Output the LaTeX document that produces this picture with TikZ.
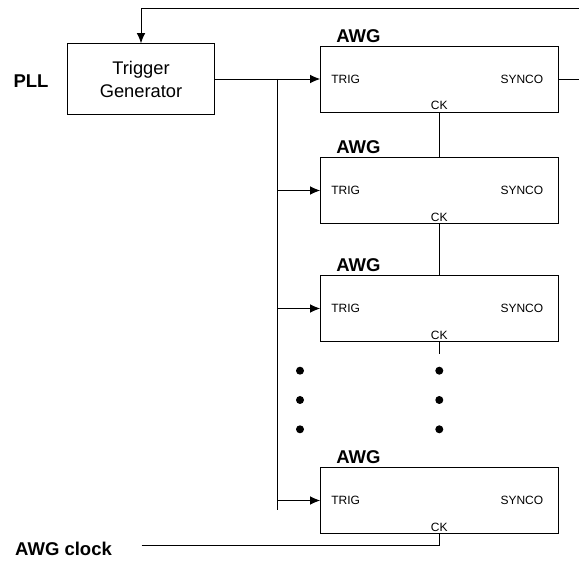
\documentclass[tikz,border=0pt]{standalone}
\usepackage{fontspec}
\setmainfont{Liberation Sans}
\usetikzlibrary{arrows.meta,calc}

\tikzset{
  block/.style={draw, line width=0.9pt, minimum width=237.3pt, minimum height=66pt, inner sep=0pt},
  port/.style={font=\fontsize{12}{13}\selectfont, inner sep=0pt},
  title/.style={font=\fontsize{18.5}{20}\selectfont\bfseries, inner sep=0pt},
  wire/.style={line width=0.9pt}
}

\begin{document}
\begin{tikzpicture}[x=1pt, y=-1pt, >={Latex[length=10pt,width=8.5pt]}]
\useasboundingbox (0,0) rectangle (579,561);

\node [draw, line width=0.9pt, minimum width=146.3pt, minimum height=70.6pt, inner sep=0pt,
       align=center, font=\fontsize{18.3}{23}\selectfont] at (141, 79) (tg) {Trigger\\Generator};
\node [title] at (31, 81) (pll) {PLL};

% AWG blocks
\foreach \i/\y in {1/79, 2/190.5, 3/308.5, 4/500.5} {
  \node [block] at (439.3, \y) (awg\i) {};
  \node [title, anchor=base west] at ($(awg\i.north west)+(16,-3.5)$) (awglab\i) {AWG};
  \node [port, anchor=west] at ($(awg\i.west)+(11,0)$) (trig\i) {TRIG};
  \node [port, anchor=east] at ($(awg\i.east)+(-15,0)$) (sync\i) {SYNCO};
  \node [port, anchor=base] at ($(awg\i.south)+(0,-2.5)$) (ck\i) {CK};
}

% trigger distribution
\coordinate (br) at (277.3, 79);
\coordinate (brend) at (277.3, 510);
\draw [wire, ->] (tg.east) -- (awg1.west);
\draw [wire] (br) -- (brend);
\foreach \i in {2,3,4}
  \draw [wire, ->] (br |- awg\i.west) -- (awg\i.west);

% clock chain
\draw [wire] (awg1.south) -- (awg2.north);
\draw [wire] (awg2.south) -- (awg3.north);
\coordinate (stub) at ($(awg3.south)+(0,12)$);
\draw [wire] (awg3.south) -- (stub);

\node [title, anchor=base west] at (15, 555) (clklab) {AWG clock};
\coordinate (clk) at (141.7, 545.5);
\draw [wire] (clk) -| (awg4.south);

% feedback from SYNCO
\coordinate (edge) at (582, 79);
\coordinate (top) at (582, 8);
\draw [wire, ->] (awg1.east) -- (edge) -- (top) -| (tg.north);

% dots
\foreach \y in {370.7, 400, 429.3} {
  \fill (300, \y) circle (4);
  \fill (439.3, \y) circle (4);
}

\end{tikzpicture}
\end{document}
